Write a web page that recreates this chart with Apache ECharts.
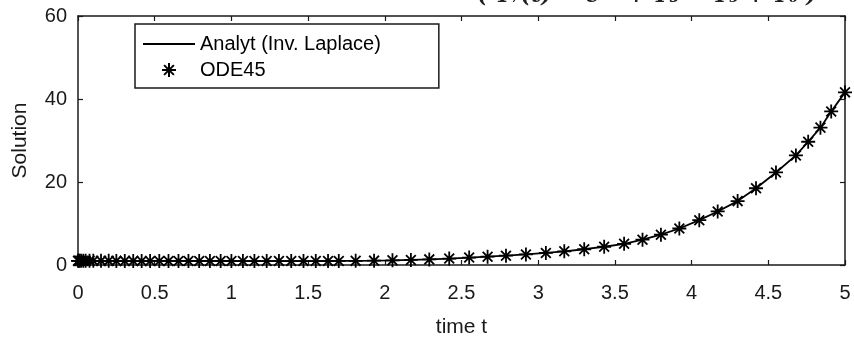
<!DOCTYPE html>
<html>
<head>
<meta charset="utf-8">
<script src="https://cdn.jsdelivr.net/npm/echarts@6/dist/echarts.min.js"></script>
<style>
html,body{margin:0;padding:0;background:#fff;}
#chart{width:854px;height:343px;}
</style>
</head>
<body>
<div id="chart"></div>
<script>
const timeT = [0, 0.004, 0.01, 0.02, 0.035, 0.05, 0.075, 0.1, 0.15, 0.2, 0.25, 0.305, 0.36, 0.415, 0.47, 0.53, 0.59, 0.655, 0.72, 0.79, 0.86, 0.93, 1.0, 1.075, 1.15, 1.23, 1.31, 1.39, 1.47, 1.55, 1.63, 1.70, 1.81, 1.93, 2.05, 2.17, 2.29, 2.42, 2.55, 2.67, 2.79, 2.92, 3.05, 3.17, 3.30, 3.43, 3.56, 3.68, 3.80, 3.92, 4.05, 4.17, 4.30, 4.42, 4.55, 4.68, 4.76, 4.84, 4.91, 5.0];
// ODE45 solution values
const odeY = [1.0, 1.0, 1.0, 1.0, 1.0, 1.0, 1.0, 1.0, 1.0, 1.0, 0.99, 0.99, 0.99, 0.98, 0.98, 0.98, 0.97, 0.97, 0.97, 0.96, 0.96, 0.96, 0.96, 0.95, 0.95, 0.95, 0.95, 0.95, 0.95, 0.95, 0.96, 0.97, 1.0, 1.05, 1.12, 1.22, 1.35, 1.55, 1.8, 2.0, 2.25, 2.55, 2.9, 3.3, 3.8, 4.4, 5.1, 6.1, 7.3, 8.8, 10.8, 12.9, 15.4, 18.5, 22.3, 26.4, 29.7, 33.1, 37.0, 41.6];
// analytic (inverse Laplace) curve values at the same times
const analytY = [1.0, 1.0, 1.0, 1.0, 1.0, 1.0, 1.0, 1.0, 1.0, 1.0, 0.99, 0.99, 0.99, 0.98, 0.98, 0.98, 0.97, 0.97, 0.97, 0.96, 0.96, 0.96, 0.96, 0.95, 0.95, 0.95, 0.95, 0.95, 0.95, 0.95, 0.96, 0.97, 1.0, 1.05, 1.12, 1.22, 1.35, 1.55, 1.8, 2.0, 2.25, 2.55, 2.9, 3.3, 3.8, 4.4, 5.1, 6.1, 7.3, 8.8, 10.8, 12.9, 15.4, 18.5, 22.3, 26.4, 29.7, 33.1, 37.0, 41.6];
const xTicks = [0, 0.5, 1, 1.5, 2, 2.5, 3, 3.5, 4, 4.5, 5];
const yTicks = [0, 20, 40, 60];
const seriesNames = ['Analyt (Inv. Laplace)', 'ODE45'];
const titleText = '( Y\u2087(t) = e\u207b\u1d57 + T\u2083 \u2212 T\u2085 + T\u2086 )';

const font = 'Liberation Sans, Arial, sans-serif';
const ink = '#1a1a1a';
const star = 'path://M5,0L5,10M0,5L10,5M1.5,1.5L8.5,8.5M1.5,8.5L8.5,1.5';
const lineIcon = 'path://M0,0L52,0L52,1.8L0,1.8Z';

const analytData = timeT.map((t, i) => [t, analytY[i]]);
const odeData = timeT.map((t, i) => [t, odeY[i]]);

function axisCommon() {
  return {
    axisLine: {show: true, onZero: false, lineStyle: {color: ink, width: 1.5}},
    axisTick: {show: true, inside: true, length: 5, lineStyle: {color: ink, width: 1.2}},
    splitLine: {show: false}
  };
}

const chart = echarts.init(document.getElementById('chart'), null, {renderer: 'canvas'});
chart.setOption({
  backgroundColor: '#fff',
  animation: false,
  grid: {left: 78, right: 9, top: 16, bottom: 75, containLabel: false},
  graphic: [{
    type: 'text',
    style: {text: titleText, x: 647, y: -4, textAlign: 'center', textVerticalAlign: 'middle',
      font: 'italic bold 22px "DejaVu Serif", serif', fill: '#222'}
  }],
  legend: {
    orient: 'vertical', left: 135, top: 24,
    padding: [9, 58, 7, 8], itemGap: 4, itemWidth: 52, itemHeight: 14,
    borderColor: ink, borderWidth: 1.5, backgroundColor: '#fff',
    textStyle: {fontFamily: font, fontSize: 20, color: '#000', lineHeight: 22},
    data: [{name: seriesNames[0], icon: lineIcon}, {name: seriesNames[1], icon: star}]
  },
  xAxis: [
    Object.assign({
      type: 'value', min: xTicks[0], max: xTicks[xTicks.length - 1], interval: 0.5,
      name: 'time t', nameLocation: 'middle', nameGap: 52,
      nameTextStyle: {fontFamily: font, fontSize: 21, color: ink},
      axisLabel: {fontFamily: font, fontSize: 20, color: ink, margin: 18,
        formatter: v => (xTicks.includes(v) ? String(v) : '')}
    }, axisCommon()),
    Object.assign({
      type: 'value', position: 'top', min: xTicks[0], max: xTicks[xTicks.length - 1], interval: 0.5,
      axisLabel: {show: false}
    }, axisCommon())
  ],
  yAxis: [
    Object.assign({
      type: 'value', min: yTicks[0], max: yTicks[yTicks.length - 1], interval: 20,
      name: 'Solution', nameLocation: 'middle', nameGap: 47,
      nameTextStyle: {fontFamily: font, fontSize: 21, color: ink},
      axisLabel: {fontFamily: font, fontSize: 20, color: ink, margin: 11}
    }, axisCommon()),
    Object.assign({
      type: 'value', position: 'right', min: yTicks[0], max: yTicks[yTicks.length - 1], interval: 20,
      axisLabel: {show: false}
    }, axisCommon())
  ],
  series: [
    {
      name: seriesNames[0], type: 'line', xAxisIndex: 0, yAxisIndex: 0,
      data: analytData, symbol: 'none', smooth: false,
      lineStyle: {color: '#000', width: 1.8}, itemStyle: {color: '#000'}, z: 2
    },
    {
      name: seriesNames[1], type: 'scatter', xAxisIndex: 0, yAxisIndex: 0,
      data: odeData, symbol: star, symbolSize: 14,
      itemStyle: {color: 'none', borderColor: '#000', borderWidth: 1.8, opacity: 1}, z: 3
    }
  ]
});
</script>
</body>
</html>
